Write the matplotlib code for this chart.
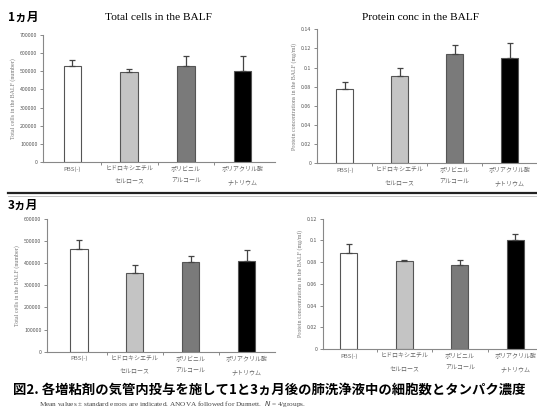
import matplotlib
matplotlib.use("Agg")
import matplotlib.pyplot as plt
from matplotlib.ticker import FuncFormatter

plt.rcParams['font.family'] = ['Noto Sans CJK JP', 'DejaVu Sans']

# 数据
groups = ["PBS(-)", "ヒドロキシエチル\nセルロース", "ポリビニル\nアルコール", "ポリアクリル酸\nナトリウム"]
bar_colors = ["#ffffff", "#c4c4c4", "#7a7a7a", "#000000"]

cells_1m = [530000, 495000, 530000, 500000]
cells_1m_err = [30000, 20000, 55000, 85000]
protein_1m = [0.078, 0.091, 0.114, 0.110]
protein_1m_err = [0.007, 0.009, 0.010, 0.016]

cells_3m = [465000, 355000, 403000, 410000]
cells_3m_err = [40000, 37000, 27000, 50000]
protein_3m = [0.088, 0.081, 0.077, 0.100]
protein_3m_err = [0.009, 0.001, 0.005, 0.006]

fig = plt.figure(figsize=(5.37, 4.12), dpi=100)


def num_fmt(v, pos):
    if v == 0:
        return "0"
    return ("%.2f" % v).rstrip("0") if v < 1 else "%d" % v


def draw_panel(rect, vals, errs, ymax, ystep, ylabel, xlim):
    ax = fig.add_axes(rect)
    x = range(len(vals))
    ax.bar(x, vals, width=0.31, color=bar_colors, edgecolor="#555555", linewidth=0.8,
           yerr=[[0] * len(errs), errs], error_kw=dict(ecolor="#444444", elinewidth=0.9,
                                                     capsize=2, capthick=0.9))
    ax.set_xlim(*xlim)
    ax.set_ylim(0, ymax)
    ticks = [i * ystep for i in range(int(round(ymax / ystep)) + 1)]
    ax.set_yticks(ticks)
    ax.yaxis.set_major_formatter(FuncFormatter(num_fmt))
    ax.set_xticks(list(x))
    ax.set_xticklabels(groups, fontsize=4.3, color="#666666", linespacing=2.5)
    ax.set_xticks([0.5, 1.5, 2.5], minor=True)
    ax.tick_params(axis="x", which="major", length=0, pad=3)
    ax.tick_params(axis="x", which="minor", length=2, color="#777777")
    ax.tick_params(axis="y", labelsize=3.8, labelcolor="#555555", length=2,
                   color="#777777", width=0.6, pad=2)
    for s in ["top", "right"]:
        ax.spines[s].set_visible(False)
    for s in ["left", "bottom"]:
        ax.spines[s].set_color("#888888")
        ax.spines[s].set_linewidth(0.8)
    ax.set_ylabel(ylabel, fontsize=4.3, color="#777777", family="Liberation Serif", labelpad=3)
    return ax


# 1カ月
draw_panel([0.080, 0.607, 0.432, 0.308], cells_1m, cells_1m_err, 700000, 100000,
           "Total cells in the BALF (number)", (-0.52, 3.57))
draw_panel([0.590, 0.604, 0.410, 0.325], protein_1m, protein_1m_err, 0.14, 0.02,
           "Protein concentrations in the BALF (mg/ml)", (-0.51, 3.5))

# 3カ月
draw_panel([0.0875, 0.146, 0.424, 0.323], cells_3m, cells_3m_err, 600000, 100000,
           "Total cells in the BALF (number)", (-0.57, 3.5))
draw_panel([0.601, 0.153, 0.399, 0.316], protein_3m, protein_3m_err, 0.12, 0.02,
           "Protein concentrations in the BALF (mg/ml)", (-0.47, 3.39))

fig.text(158 / 537, 1 - 18 / 412, "Total cells in the BALF", fontsize=8.2,
         family="Liberation Serif", ha="center", va="center")
fig.text(420 / 537, 1 - 18 / 412, "Protein conc in the BALF", fontsize=8.2,
         family="Liberation Serif", ha="center", va="center")

fig.text(0.015, 1 - 17 / 412, "1ヵ月", fontsize=8.5, fontweight="bold", va="center")
fig.text(0.015, 1 - 205 / 412, "3ヵ月", fontsize=8.5, fontweight="bold", va="center")

# 分隔线
fig.add_artist(plt.Line2D([8 / 537, 1.0], [1 - 193 / 412] * 2, color="#222222", linewidth=1.6))
fig.add_artist(plt.Line2D([8 / 537, 1.0], [1 - 195.5 / 412] * 2, color="#bbbbbb", linewidth=0.6))

fig.text(13 / 537, 1 - 390 / 412, "図2. 各増粘剤の気管内投与を施して1と3ヵ月後の肺洗浄液中の細胞数とタンパク濃度",
         fontsize=9.6, fontweight="bold", va="center")
fig.text(39 / 537, 1 - 404 / 412,
         "Mean values ± standard errors are indicated. ANOVA followed for Dunnett.  $N$ = 4/groups.",
         fontsize=5.2, family="Liberation Serif", color="#444444", va="center")

fig.savefig("out.png", dpi=100)
